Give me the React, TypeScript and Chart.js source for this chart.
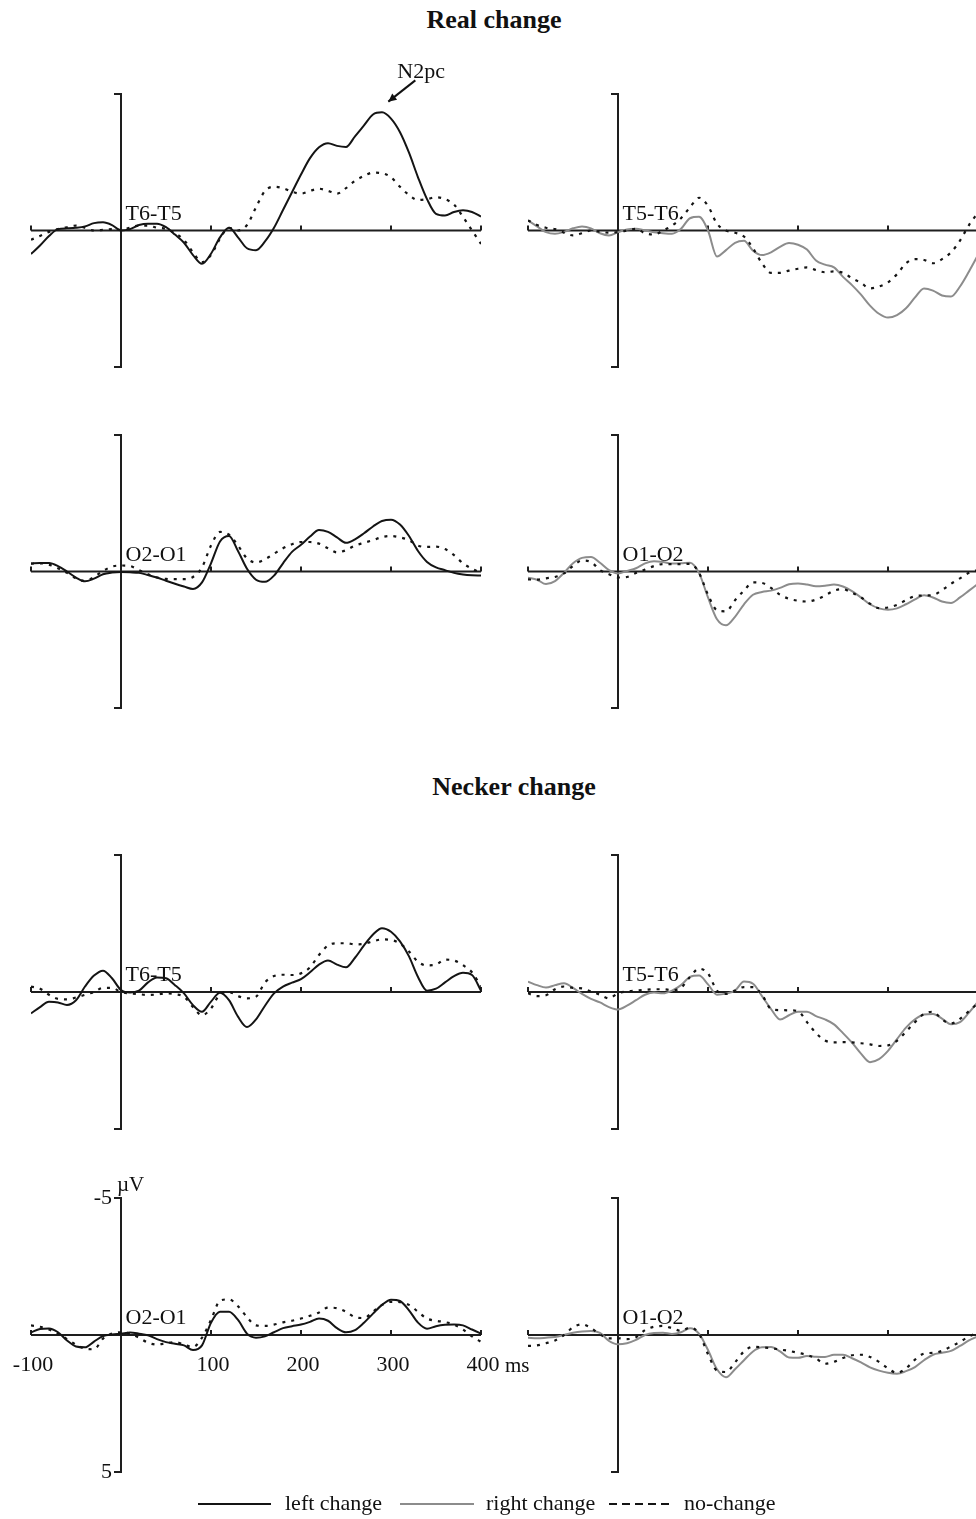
import React, { useEffect, useRef } from 'react';
import { Chart, registerables } from 'chart.js';

Chart.register(...registerables);

const FONT = '"Liberation Serif", "Times New Roman", serif';

// time axis (ms)
const TIMES = [
  -100, -90, -80, -70, -60, -50, -40, -30, -20, -10,
  0, 10, 20, 30, 40, 50, 60, 70, 80, 90,
  100, 110, 120, 130, 140, 150, 160, 170, 180, 190,
  200, 210, 220, 230, 240, 250, 260, 270, 280, 290,
  300, 310, 320, 330, 340, 350, 360, 370, 380, 390,
  400,
];
const X_TICKS = [-100, 0, 100, 200, 300, 400];
const X_TICK_LABELS = ['-100', '', '100', '200', '300', '400'];
const X_UNIT = 'ms';
const Y_TICKS = [-5, 5];
const Y_TICK_LABELS = ['-5', '5'];
const Y_UNIT = 'µV';

const SERIES_NAMES = ['left change', 'right change', 'no-change'];

// ---- Real change ----
const REAL_T6T5_LEFT = [
  0.86, 0.55, 0.2, -0.05, -0.08, -0.1, -0.15, -0.27, -0.3, -0.2,
  0.0, -0.05, -0.2, -0.25, -0.25, -0.12, 0.15, 0.45, 0.9, 1.22,
  0.85, 0.25, -0.1, 0.25, 0.65, 0.72, 0.4, -0.1, -0.75, -1.4,
  -2.05, -2.65, -3.05, -3.2, -3.1, -3.06, -3.45, -3.85, -4.25, -4.33,
  -4.1, -3.6, -2.85, -1.95, -1.15, -0.61, -0.55, -0.68, -0.74, -0.68,
  -0.51,
];
const REAL_T6T5_NO = [
  0.34, 0.2, 0.05, -0.05, -0.12, -0.18, -0.1, 0.0, -0.02, -0.05,
  -0.02, -0.1, -0.18, -0.18, -0.1, -0.06, 0.1, 0.35, 0.8, 1.16,
  0.9, 0.3, -0.1, 0.0, -0.2, -0.85, -1.45, -1.6, -1.55, -1.42,
  -1.35, -1.45, -1.53, -1.45, -1.35, -1.55, -1.82, -2.0, -2.12, -2.1,
  -1.95, -1.6, -1.3, -1.12, -1.15, -1.22, -1.15, -0.95, -0.5, 0.0,
  0.49,
];
const REAL_T5T6_RIGHT = [
  -0.37, -0.15, 0.06, 0.12, 0.05, -0.08, -0.15, -0.08, 0.1, 0.18,
  0.06, -0.04, -0.06, 0.0, 0.06, 0.1, 0.12, -0.06, -0.45, -0.5,
  0.0, 0.95, 0.72, 0.45, 0.38, 0.74, 0.9, 0.8, 0.6, 0.46,
  0.52, 0.7, 1.1, 1.25, 1.35, 1.7, 2.0, 2.35, 2.75, 3.05,
  3.19, 3.1, 2.85, 2.45, 2.12, 2.2, 2.38, 2.42, 2.05, 1.5,
  0.9,
];
const REAL_T5T6_NO = [
  -0.37, -0.2, -0.1, -0.05, 0.08, 0.18, 0.1, 0.0, 0.05, 0.08,
  0.06, 0.0, -0.06, 0.1, 0.15, 0.0, -0.18, -0.45, -0.85, -1.2,
  -0.9, -0.25, 0.0, 0.08, 0.22, 0.65, 1.2, 1.55, 1.55, 1.47,
  1.4, 1.35, 1.45, 1.53, 1.5, 1.55, 1.75, 1.92, 2.12, 2.05,
  1.9, 1.6, 1.2, 1.05, 1.08, 1.2, 1.05, 0.8, 0.37, -0.2,
  -0.65,
];
const REAL_O2O1_LEFT = [
  -0.29, -0.31, -0.31, -0.2, 0.0, 0.22, 0.36, 0.26, 0.1, 0.04,
  0.02, 0.03, 0.05, 0.13, 0.22, 0.34, 0.45, 0.55, 0.64, 0.4,
  -0.3, -1.1, -1.3, -0.75, -0.1, 0.3, 0.38, 0.15, -0.3, -0.72,
  -0.98, -1.28, -1.52, -1.45, -1.25, -1.05, -1.18, -1.4, -1.65, -1.85,
  -1.9, -1.72, -1.3, -0.75, -0.35, -0.15, -0.05, 0.05, 0.11, 0.14,
  0.15,
];
const REAL_O2O1_NO = [
  -0.29, -0.3, -0.25, -0.12, 0.05, 0.25, 0.35, 0.2, -0.02, -0.18,
  -0.22, -0.2, -0.05, 0.1, 0.22, 0.27, 0.28, 0.28, 0.2, -0.15,
  -0.95, -1.45, -1.35, -0.95, -0.48, -0.33, -0.45, -0.65, -0.85, -1.0,
  -1.08, -1.08, -1.02, -0.85, -0.7, -0.78, -0.95, -1.05, -1.15, -1.26,
  -1.3, -1.25, -1.15, -0.95, -0.9, -0.91, -0.82, -0.6, -0.3, -0.1,
  0.05,
];
const REAL_O1O2_RIGHT = [
  0.23, 0.3, 0.46, 0.35, 0.05, -0.3, -0.5, -0.53, -0.32, -0.05,
  0.07, -0.02, -0.12, -0.3, -0.38, -0.35, -0.29, -0.3, -0.32, 0.05,
  0.95, 1.75, 1.97, 1.66, 1.2, 0.85, 0.75, 0.7, 0.6, 0.47,
  0.44, 0.48, 0.54, 0.52, 0.48, 0.55, 0.72, 0.95, 1.2, 1.35,
  1.4, 1.35, 1.2, 1.02, 0.87, 0.95, 1.1, 1.15, 0.95, 0.7,
  0.45,
];
const REAL_O1O2_NO = [
  0.29, 0.3, 0.25, 0.2, 0.07, -0.2, -0.4, -0.35, -0.05, 0.1,
  0.22, 0.2, 0.05, -0.07, -0.2, -0.27, -0.27, -0.27, -0.28, 0.05,
  0.85, 1.42, 1.46, 1.05, 0.7, 0.4, 0.42, 0.6, 0.85, 1.0,
  1.07, 1.1, 1.03, 0.88, 0.7, 0.65, 0.78, 0.95, 1.18, 1.34,
  1.32, 1.22, 1.05, 0.9, 0.88, 0.86, 0.68, 0.45, 0.25, 0.05,
  -0.05,
];

// ---- Necker change ----
const NECKER_T6T5_LEFT = [
  0.78, 0.55, 0.36, 0.38, 0.47, 0.3, -0.2, -0.6, -0.78, -0.5,
  -0.07, 0.02, -0.05, -0.35, -0.53, -0.5, -0.25, 0.05, 0.48, 0.72,
  0.35, 0.03, 0.3, 0.9, 1.28, 1.0, 0.5, 0.05, -0.2, -0.34,
  -0.47, -0.72, -1.0, -1.15, -1.0, -0.9, -1.25, -1.7, -2.1, -2.33,
  -2.2, -1.85, -1.3, -0.55, -0.05, -0.12, -0.35, -0.58, -0.7, -0.62,
  -0.05,
];
const NECKER_T6T5_NO = [
  -0.2, -0.12, 0.1, 0.25, 0.27, 0.2, 0.1, 0.0, -0.15, -0.15,
  0.0, 0.05, 0.08, 0.11, 0.09, 0.05, 0.08, 0.17, 0.55, 0.85,
  0.6, 0.08, 0.0, 0.15, 0.23, 0.17, -0.35, -0.58, -0.63, -0.62,
  -0.68, -0.9, -1.35, -1.7, -1.78, -1.78, -1.74, -1.76, -1.85, -1.92,
  -1.9, -1.77, -1.48, -1.1, -0.97, -1.0, -1.18, -1.15, -0.98, -0.72,
  -0.2,
];
const NECKER_T5T6_RIGHT = [
  -0.38, -0.25, -0.16, -0.25, -0.32, -0.15, 0.07, 0.25, 0.38, 0.55,
  0.64, 0.5, 0.3, 0.1, 0.02, 0.05, -0.05, -0.25, -0.55, -0.6,
  -0.28, 0.1, 0.06, -0.05, -0.38, -0.3, 0.15, 0.62, 1.0, 0.85,
  0.72, 0.72, 0.88, 1.0, 1.18, 1.5, 1.85, 2.25, 2.56, 2.45,
  2.15, 1.72, 1.3, 1.0, 0.82, 0.8, 0.97, 1.18, 1.1, 0.75,
  0.35,
];
const NECKER_T5T6_NO = [
  0.05, 0.15, 0.12, -0.1, -0.2, -0.15, -0.13, -0.02, 0.1, 0.23,
  0.05, -0.02, -0.05, -0.08, -0.1, -0.1, -0.07, -0.15, -0.55, -0.85,
  -0.68, -0.05, 0.07, -0.05, -0.18, -0.18, 0.1, 0.62, 0.66, 0.67,
  0.7, 1.1, 1.5, 1.77, 1.84, 1.83, 1.84, 1.87, 1.91, 1.97,
  1.95, 1.78, 1.45, 1.1, 0.8, 0.72, 1.0, 1.15, 0.98, 0.7,
  0.4,
];
const NECKER_O2O1_LEFT = [
  -0.09, -0.22, -0.24, -0.1, 0.2, 0.42, 0.45, 0.24, 0.04, -0.02,
  -0.05, -0.09, -0.05, 0.01, 0.15, 0.26, 0.32, 0.38, 0.55, 0.38,
  -0.45, -0.85, -0.85, -0.55, -0.05, 0.1, 0.05, -0.1, -0.25, -0.32,
  -0.38, -0.48, -0.6, -0.52, -0.25, -0.1, -0.18, -0.45, -0.78, -1.1,
  -1.29, -1.24, -0.9, -0.45, -0.23, -0.32, -0.37, -0.38, -0.35, -0.2,
  -0.05,
];
const NECKER_O2O1_NO = [
  -0.35, -0.3, -0.2, -0.05, 0.15, 0.35, 0.5, 0.52, 0.13, -0.05,
  -0.1, -0.05, 0.1, 0.28, 0.35, 0.3, 0.26, 0.35, 0.44, 0.1,
  -0.55, -1.25, -1.3, -1.05, -0.65, -0.35, -0.33, -0.38, -0.46, -0.52,
  -0.6, -0.7, -0.82, -1.0, -0.98, -0.85, -0.65, -0.62, -0.85, -1.1,
  -1.21, -1.2, -1.1, -0.85, -0.6, -0.52, -0.47, -0.38, -0.2, 0.05,
  0.25,
];
const NECKER_O1O2_RIGHT = [
  0.1, 0.12, 0.1, 0.07, 0.0, -0.08, -0.13, -0.15, -0.08, 0.22,
  0.34, 0.3, 0.18, 0.0, -0.07, -0.08, -0.04, -0.1, -0.25, -0.05,
  0.55, 1.25, 1.54, 1.25, 0.92, 0.6, 0.45, 0.44, 0.6, 0.82,
  0.83, 0.77, 0.79, 0.8, 0.72, 0.72, 0.85, 1.0, 1.18, 1.3,
  1.38, 1.41, 1.32, 1.17, 0.92, 0.72, 0.65, 0.58, 0.4, 0.2,
  0.05,
];
const NECKER_O1O2_NO = [
  0.4, 0.38, 0.3, 0.2, 0.0, -0.28, -0.39, -0.25, -0.02, 0.12,
  0.12, 0.15, 0.08, -0.18, -0.3, -0.33, -0.25, -0.15, -0.27, -0.05,
  0.7, 1.3, 1.35, 1.0, 0.6, 0.43, 0.45, 0.48, 0.53, 0.58,
  0.65, 0.73, 0.86, 1.05, 0.98, 0.84, 0.74, 0.72, 0.8, 0.98,
  1.22, 1.38, 1.22, 0.9, 0.68, 0.65, 0.58, 0.42, 0.25, 0.05,
  -0.1,
];

// ---- styles / layout ----
const BLACK = '#141414';
const GRAY = '#8c8c8c';
const AXIS = '#1e1e1e';
const PLOT_W = 450;
const COL_LEFT = [31, 528];
const ROW_TOP = [94, 435, 855, 1198];
const ROW_H = [273, 273, 274, 274];
const PAD = { left: 40, right: 60, top: 50, bottom: 45 };

type PanelDef = {
  label: string;
  row: number;
  col: number;
  solid: number[];
  dotted: number[];
  color: string;
  name: string;
  axisLabels?: boolean;
  n2pc?: boolean;
};

const PANELS: PanelDef[] = [
  { label: 'T6-T5', row: 0, col: 0, solid: REAL_T6T5_LEFT, dotted: REAL_T6T5_NO, color: BLACK, name: SERIES_NAMES[0], n2pc: true },
  { label: 'T5-T6', row: 0, col: 1, solid: REAL_T5T6_RIGHT, dotted: REAL_T5T6_NO, color: GRAY, name: SERIES_NAMES[1] },
  { label: 'O2-O1', row: 1, col: 0, solid: REAL_O2O1_LEFT, dotted: REAL_O2O1_NO, color: BLACK, name: SERIES_NAMES[0] },
  { label: 'O1-O2', row: 1, col: 1, solid: REAL_O1O2_RIGHT, dotted: REAL_O1O2_NO, color: GRAY, name: SERIES_NAMES[1] },
  { label: 'T6-T5', row: 2, col: 0, solid: NECKER_T6T5_LEFT, dotted: NECKER_T6T5_NO, color: BLACK, name: SERIES_NAMES[0] },
  { label: 'T5-T6', row: 2, col: 1, solid: NECKER_T5T6_RIGHT, dotted: NECKER_T5T6_NO, color: GRAY, name: SERIES_NAMES[1] },
  { label: 'O2-O1', row: 3, col: 0, solid: NECKER_O2O1_LEFT, dotted: NECKER_O2O1_NO, color: BLACK, name: SERIES_NAMES[0], axisLabels: true },
  { label: 'O1-O2', row: 3, col: 1, solid: NECKER_O1O2_RIGHT, dotted: NECKER_O1O2_NO, color: GRAY, name: SERIES_NAMES[1] },
];

function toPoints(vals: number[]) {
  return TIMES.map((t, i) => ({ x: t, y: vals[i] }));
}

function makeDecor(p: PanelDef) {
  return {
    id: 'erpDecor',
    beforeDatasetsDraw(chart: any) {
      const { ctx } = chart;
      const xs = chart.scales.x;
      const ys = chart.scales.y;
      const y0 = ys.getPixelForValue(0);
      const x0 = xs.getPixelForValue(0);
      const xL = xs.getPixelForValue(X_TICKS[0]);
      const xR = xs.getPixelForValue(X_TICKS[X_TICKS.length - 1]);
      const yT = ys.getPixelForValue(Y_TICKS[0]);
      const yB = ys.getPixelForValue(Y_TICKS[1]);
      ctx.save();
      ctx.strokeStyle = AXIS;
      ctx.lineWidth = 2;
      ctx.beginPath();
      ctx.moveTo(xL, y0);
      ctx.lineTo(xR, y0);
      X_TICKS.forEach((t) => {
        if (t === 0) return;
        const px = xs.getPixelForValue(t);
        ctx.moveTo(px, y0);
        ctx.lineTo(px, y0 - 5);
      });
      ctx.stroke();
      ctx.beginPath();
      ctx.moveTo(x0 - 7, yT);
      ctx.lineTo(x0, yT);
      ctx.lineTo(x0, yB);
      ctx.lineTo(x0 - 7, yB);
      ctx.stroke();
      ctx.restore();
    },
    afterDatasetsDraw(chart: any) {
      const { ctx } = chart;
      const xs = chart.scales.x;
      const ys = chart.scales.y;
      const y0 = ys.getPixelForValue(0);
      const x0 = xs.getPixelForValue(0);
      ctx.save();
      ctx.fillStyle = '#111';
      ctx.font = `22px ${FONT}`;
      ctx.textAlign = 'left';
      ctx.textBaseline = 'alphabetic';
      ctx.fillText(p.label, xs.getPixelForValue(5), y0 - 11);

      if (p.axisLabels) {
        ctx.textBaseline = 'middle';
        ctx.textAlign = 'center';
        X_TICKS.forEach((t, i) => {
          const s = X_TICK_LABELS[i];
          if (!s) return;
          ctx.fillText(s, xs.getPixelForValue(t) + 2, y0 + 30);
        });
        ctx.textAlign = 'left';
        ctx.font = `21px ${FONT}`;
        ctx.fillText(X_UNIT, xs.getPixelForValue(X_TICKS[X_TICKS.length - 1]) + 24, y0 + 31);
        ctx.font = `22px ${FONT}`;
        ctx.textAlign = 'right';
        Y_TICKS.forEach((v, i) => {
          ctx.fillText(Y_TICK_LABELS[i], x0 - 9, ys.getPixelForValue(v));
        });
        ctx.textAlign = 'left';
        ctx.textBaseline = 'alphabetic';
        ctx.font = `21px ${FONT}`;
        ctx.fillText(Y_UNIT, x0 - 4, ys.getPixelForValue(Y_TICKS[0]) - 7);
      }

      if (p.n2pc) {
        ctx.font = `22px ${FONT}`;
        ctx.textAlign = 'left';
        ctx.textBaseline = 'alphabetic';
        ctx.fillText('N2pc', xs.getPixelForValue(307), ys.getPixelForValue(-5.6));
        const ax = xs.getPixelForValue(327);
        const ay = ys.getPixelForValue(-5.5);
        const bx = xs.getPixelForValue(297);
        const by = ys.getPixelForValue(-4.72);
        ctx.strokeStyle = '#111';
        ctx.lineWidth = 2;
        ctx.beginPath();
        ctx.moveTo(ax, ay);
        ctx.lineTo(bx, by);
        ctx.stroke();
        const ang = Math.atan2(by - ay, bx - ax);
        const L = 9;
        ctx.beginPath();
        ctx.moveTo(bx, by);
        ctx.lineTo(bx - L * Math.cos(ang - 0.45), by - L * Math.sin(ang - 0.45));
        ctx.lineTo(bx - L * Math.cos(ang + 0.45), by - L * Math.sin(ang + 0.45));
        ctx.closePath();
        ctx.fillStyle = '#111';
        ctx.fill();
      }
      ctx.restore();
    },
  };
}

function ErpPanel({ p }: { p: PanelDef }) {
  const ref = useRef<HTMLCanvasElement | null>(null);
  const w = PAD.left + PLOT_W + PAD.right;
  const h = PAD.top + ROW_H[p.row] + PAD.bottom;
  useEffect(() => {
    if (!ref.current) return;
    const chart = new Chart(ref.current, {
      type: 'line',
      data: {
        datasets: [
          {
            label: SERIES_NAMES[2],
            data: toPoints(p.dotted),
            borderColor: BLACK,
            borderWidth: 2.2,
            borderDash: [3, 6],
            pointRadius: 0,
            cubicInterpolationMode: 'monotone',
            fill: false,
          },
          {
            label: p.name,
            data: toPoints(p.solid),
            borderColor: p.color,
            borderWidth: 2,
            pointRadius: 0,
            cubicInterpolationMode: 'monotone',
            fill: false,
          },
        ],
      },
      options: {
        responsive: false,
        maintainAspectRatio: false,
        animation: false,
        layout: { padding: PAD },
        parsing: false as any,
        scales: {
          x: { type: 'linear', min: X_TICKS[0], max: X_TICKS[X_TICKS.length - 1], display: false },
          y: { type: 'linear', min: Y_TICKS[0], max: Y_TICKS[1], reverse: true, display: false },
        },
        plugins: { legend: { display: false }, tooltip: { enabled: false }, title: { display: false } },
        events: [],
      },
      plugins: [makeDecor(p)],
    } as any);
    return () => chart.destroy();
  }, [p]);
  return (
    <canvas
      ref={ref}
      width={w}
      height={h}
      style={{
        position: 'absolute',
        left: COL_LEFT[p.col] - PAD.left,
        top: ROW_TOP[p.row] - PAD.top,
        width: w,
        height: h,
      }}
    />
  );
}

function Title({ text, cx, baseline }: { text: string; cx: number; baseline: number }) {
  return (
    <div
      style={{
        position: 'absolute',
        left: cx,
        top: baseline - 22,
        transform: 'translateX(-50%)',
        font: `bold 26px ${FONT}`,
        lineHeight: '26px',
        whiteSpace: 'nowrap',
        color: '#111',
      }}
    >
      {text}
    </div>
  );
}

function LegendText({ text, left }: { text: string; left: number }) {
  return (
    <div
      style={{
        position: 'absolute',
        left,
        top: 1490,
        font: `22px ${FONT}`,
        lineHeight: '26px',
        whiteSpace: 'nowrap',
        color: '#111',
      }}
    >
      {text}
    </div>
  );
}

export default function App() {
  return (
    <div
      style={{
        position: 'absolute',
        left: 0,
        top: 0,
        width: 976,
        height: 1519,
        overflow: 'hidden',
        background: '#fff',
      }}
    >
      <Title text="Real change" cx={494} baseline={29} />
      <Title text="Necker change" cx={514} baseline={796} />
      {PANELS.map((p, i) => (
        <ErpPanel key={i} p={p} />
      ))}
      <svg
        width={976}
        height={30}
        style={{ position: 'absolute', left: 0, top: 1490 }}
      >
        <line x1={198} y1={14} x2={271} y2={14} stroke={BLACK} strokeWidth={2} />
        <line x1={400} y1={14} x2={474} y2={14} stroke={GRAY} strokeWidth={2} />
        <line x1={609} y1={14} x2={672} y2={14} stroke={BLACK} strokeWidth={2} strokeDasharray="8 5" />
      </svg>
      <LegendText text={SERIES_NAMES[0]} left={285} />
      <LegendText text={SERIES_NAMES[1]} left={486} />
      <LegendText text={SERIES_NAMES[2]} left={684} />
    </div>
  );
}
